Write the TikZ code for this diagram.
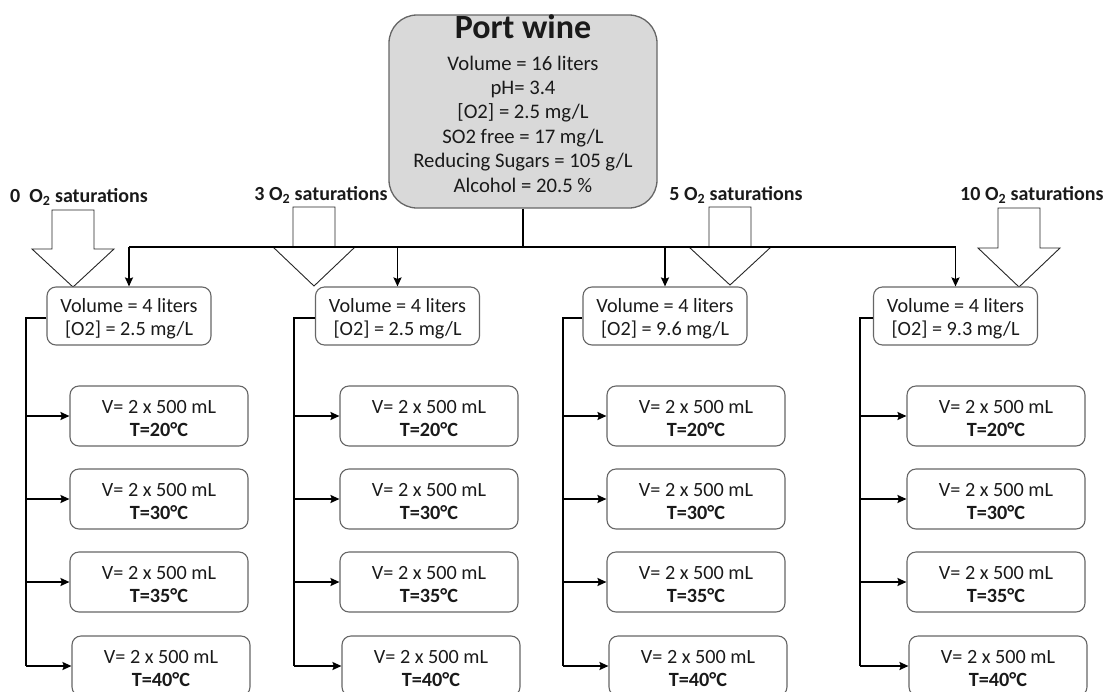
\documentclass[tikz,border=0pt]{standalone}
\usepackage{fontspec}
\setmainfont{Carlito}
\usetikzlibrary{arrows.meta}
\definecolor{boxline}{HTML}{666666}
\definecolor{topfill}{HTML}{D9D9D9}
\definecolor{inkc}{HTML}{1A1A1A}
\newcommand\blkarrow[4]{%
  \draw[blockarrow] ({#1-21},#2) -- ({#1+21},#2) -- ({#1+21},#3) -- ({#1+41},#3)
    -- (#1,#4) -- ({#1-41},#3) -- ({#1-21},#3) -- cycle;}
\begin{document}
\begin{tikzpicture}[x=1pt,y=-1pt,
  every node/.style={text=inkc},
  conn/.style={draw=black, line width=1.8pt},
  arr/.style={conn, -{Stealth[length=9pt,width=8pt,inset=1.5pt]}},
  blockarrow/.style={draw=black!85, line width=0.9pt, fill=white, line join=miter},
  topbox/.style={draw=boxline, fill=topfill, line width=1.3pt, rounded corners=28pt,
    minimum width=268pt, minimum height=193pt, inner sep=0pt, align=center,
    font=\fontsize{20.7}{24.4}\selectfont, text height=177pt, text depth=16pt},
  lvltwo/.style={draw=boxline, fill=white, line width=1.1pt, rounded corners=9pt,
    minimum width=164pt, minimum height=58pt, inner sep=0pt, align=center,
    font=\fontsize{20.2}{22.5}\selectfont, text height=44pt, text depth=6pt},
  lvlthree/.style={draw=boxline, fill=white, line width=1.1pt, rounded corners=9pt,
    minimum width=178pt, minimum height=60pt, inner sep=0pt, align=center,
    font=\fontsize{20.2}{23}\selectfont, text height=46pt, text depth=6pt},
  satlabel/.style={font=\fontsize{20}{22}\selectfont\bfseries, inner sep=0pt}
]
\useasboundingbox (0,0) rectangle (1114,691);
\clip (0,0) rectangle (1114,691);

% top box
\node[topbox] (pw) at (523,111.5)
  {{\fontsize{34}{34}\selectfont\bfseries Port wine}\\[7.6pt]
   Volume = 16 liters\\
   pH= 3.4\\{}%
   [O2] = 2.5 mg/L\\
   SO2 free = 17 mg/L\\
   Reducing Sugars = 105 g/L\\
   Alcohol = 20.5 \%};

% saturation labels
\node[satlabel, anchor=west] (s0) at (10,197) {0\ \ O\textsubscript{2} saturations};
\node[satlabel] (s3) at (321,195) {3 O\textsubscript{2} saturations};
\node[satlabel] (s5) at (736,195) {5 O\textsubscript{2} saturations};
\node[satlabel, anchor=west] (s10) at (960,195) {10 O\textsubscript{2} saturations};

% block arrows
\blkarrow{73}{210}{249}{287}
\blkarrow{314}{207}{247}{286}
\blkarrow{730}{207}{247}{285}
\blkarrow{1019}{208}{248}{287}

% level 2 boxes
\node[lvltwo] (a1) at (129,316) {Volume = 4 liters\\{}[O2] = 2.5 mg/L};
\node[lvltwo] (a2) at (397.5,316) {Volume = 4 liters\\{}[O2] = 2.5 mg/L};
\node[lvltwo] (a3) at (665,316) {Volume = 4 liters\\{}[O2] = 9.6 mg/L};
\node[lvltwo] (a4) at (955.5,316) {Volume = 4 liters\\{}[O2] = 9.3 mg/L};

% level 3 boxes
\foreach \c/\x in {1/159,2/429,3/696,4/996}{
  \node[lvlthree] (c\c1) at (\x,416) {V= 2 x 500 mL\\ \textbf{T=20°C}};
  \node[lvlthree] (c\c2) at (\x,499) {V= 2 x 500 mL\\ \textbf{T=30°C}};
  \node[lvlthree] (c\c3) at (\x,582) {V= 2 x 500 mL\\ \textbf{T=35°C}};
  \node[lvlthree] (c\c4) at ({\x+2},666) {V= 2 x 500 mL\\ \textbf{T=40°C}};
}

% top connectors
\coordinate (hub) at (523,247);
\draw[conn] (pw.south) -- (hub);
\draw[conn] (a1.north |- hub) -- (a4.north |- hub);
\foreach \i in {1,2,3,4}{
  \draw[arr] (a\i.north |- hub) -- (a\i.north);
}

% column trunks
\foreach \i/\tx in {1/26,2/294,3/563,4/860}{
  \coordinate (t\i) at (\tx,318);
  \draw[conn] ([yshift=-2pt]a\i.west) -- (t\i) -- (t\i |- c\i4.west);
  \foreach \j in {1,2,3,4}{
    \draw[arr] (t\i |- c\i\j.west) -- (c\i\j.west);
  }
}
\end{tikzpicture}
\end{document}
